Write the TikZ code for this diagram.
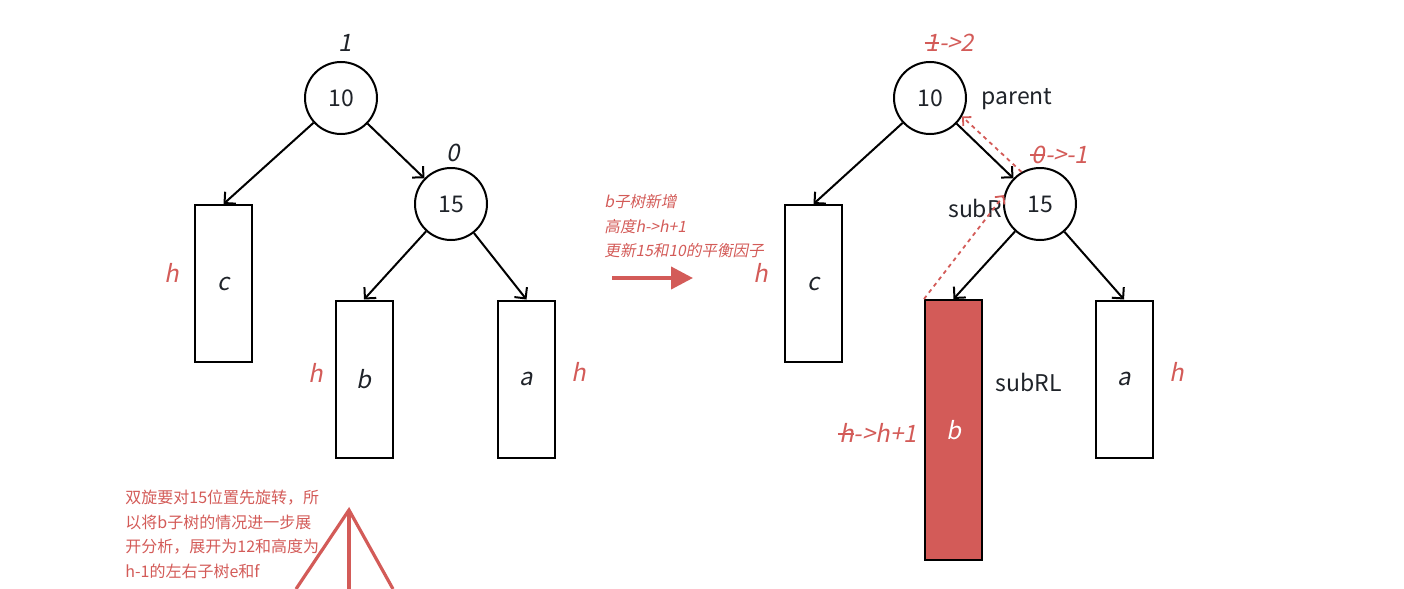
\documentclass[tikz,border=0pt]{standalone}
\usepackage{fontspec}
\setmainfont{Noto Sans CJK SC}[ItalicFont=Noto Sans CJK SC, ItalicFeatures={FakeSlant=0.2}]
\usetikzlibrary{positioning,arrows.meta}
\definecolor{accent}{HTML}{D35B58}
\definecolor{ink}{HTML}{1F2329}
\newcommand{\strk}[1]{\setbox0\hbox{#1}\rlap{\hspace{-0.1\wd0}\rule[0.6ex]{1.1\wd0}{0.7pt}}\box0}
\tikzset{
  keynode/.style={draw, circle, line width=1pt, minimum size=36pt, inner sep=0pt, text=ink, font=\fontsize{11.5}{12}\selectfont},
  subtree/.style={draw, line width=1pt, minimum width=28.5pt, minimum height=78.5pt, inner sep=0pt, text=ink, font=\fontsize{12}{14}\selectfont\itshape},
  bf/.style={text=ink, font=\fontsize{12}{14}\selectfont\itshape},
  hlabel/.style={text=accent, font=\fontsize{12}{14}\selectfont\itshape},
  tag/.style={text=ink, font=\fontsize{11.5}{14}\selectfont},
  note/.style={text=accent, align=left, anchor=north west, inner sep=0pt},
  child/.style={->, line width=1pt},
  trace/.style={-{Straight Barb[length=3pt,width=6pt]}, accent, dash pattern=on 2pt off 2pt, line width=0.9pt},
}

\begin{document}
\begin{tikzpicture}[x=0.5pt, y=-0.5pt, >={Straight Barb[length=4pt,width=8pt]}]
        \useasboundingbox (0,0) rectangle (1404,589);
        % before: left tree
        \node[keynode] (l10) at (341,98) {10};
        \node[keynode] (l15) at (451,204) {15};
        \node[subtree] (lc) at (223.5,283.5) {c};
        \node[subtree] (lb) at (364,379) {b};
        \node[subtree] (la) at (526.5,379) {a};
        \node[bf] (lbf10) at (345,43) {1};
        \node[bf] (lbf15) at (453,153) {0};
        \node[hlabel] (lhc) at (172,273) {h};
        \node[hlabel] (lhb) at (316,373) {h};
        \node[hlabel] (lha) at (579,372) {h};
        \draw[child] (l10) -- (l15);
        \draw[child] (l10) -- (lc.north);
        \draw[child] (l15) -- (lb.north);
        \draw[child] (l15) -- (la.north);

        % what happens
        \node[note, font=\fontsize{7.8}{12.25}\selectfont\itshape] (why) at (604,194)
              {b子树新增\\高度h->h+1\\更新15和10的平衡因子};
        \coordinate (gofrom) at (612,278);
        \coordinate (goto) at (693,278);
        \draw[accent, line width=2pt, -{Triangle[length=11pt,width=11pt]}] (gofrom) -- (goto);

        % after: right tree
        \node[keynode] (r10) at (930,98) {10};
        \node[keynode] (r15) at (1040,204) {15};
        \node[subtree] (rc) at (813.5,283.5) {c};
        \node[subtree, fill=accent, text=white, minimum height=130pt] (rb) at (953.5,430) {b};
        \node[subtree] (ra) at (1124,379) {a};
        \node[hlabel] (rbf10) at (950,43) {\strk{1}->2};
        \node[hlabel] (rbf15) at (1060,155) {\strk{0}->-1};
        \node[tag] (parent) at (1017,99) {parent};
        \node[tag] (subR) at (975,208) {subR};
        \node[tag] (subRL) at (1029,382) {subRL};
        \node[hlabel] (rhc) at (761,273) {h};
        \node[hlabel] (rhb) at (878,433) {\strk{h}->h+1};
        \node[hlabel] (rha) at (1177,372) {h};
        \draw[child] (r10) -- (r15);
        \draw[child] (r10) -- (rc.north);
        \draw[child] (r15) -- (rb.north);
        \draw[child] (r15) -- (ra.north);
        \draw[trace] (rb.north west) -- (r15.166);
        \draw[trace] (r15.120) -- (r10.-30);

        % double rotation remark
        \node[note, font=\fontsize{8}{12.25}\selectfont] (remark) at (125,490)
              {双旋要对15位置先旋转，所\\以将b子树的情况进一步展\\开分析，展开为12和高度为\\h-1的左右子树e和f};
        \draw[accent, line width=1.6pt] (296,589) -- (349,510) -- (393,589);
        \draw[accent, line width=1.6pt] (349,510) -- (349,589);
      \end{tikzpicture}
\end{document}
